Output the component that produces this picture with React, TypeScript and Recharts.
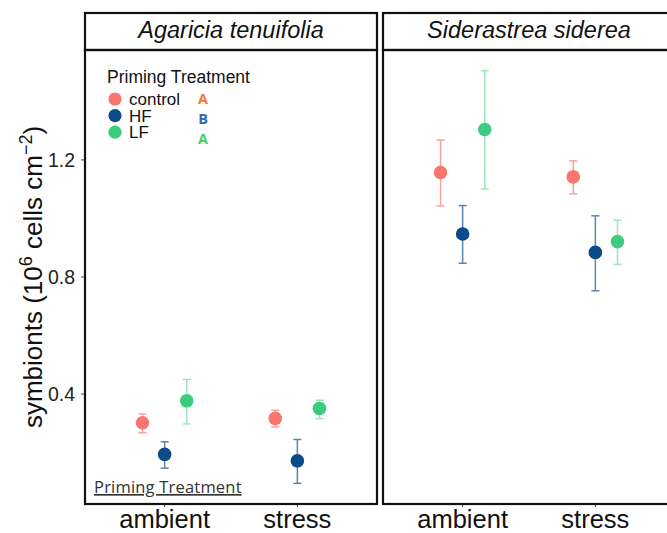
import React from 'react';
import { ScatterChart, Scatter, XAxis, YAxis, ErrorBar } from 'recharts';

// Categories and labels
const conditions = ['ambient', 'stress'];
const treatments = ['control', 'HF', 'LF'];
const speciesNames = ['Agaricia tenuifolia', 'Siderastrea siderea'];
const groupLetters = ['A', 'B', 'A'];
const yTicks = [0.4, 0.8, 1.2];

// Colours per treatment
const treatmentColors = ['#F8766D', '#0D4A8B', '#3DCB80'];
const errorColors = ['#F9A39B', '#5C84B4', '#A0E4BF'];
const letterColors = ['#ED7D31', '#2E6DB3', '#45D25C'];

// Symbiont density (10^6 cells cm^-2); rows: control, HF, LF; columns: ambient, stress
const agariciaMean = [
  [0.302, 0.317],
  [0.194, 0.172],
  [0.377, 0.351],
];
const agariciaLower = [
  [0.268, 0.288],
  [0.147, 0.095],
  [0.298, 0.316],
];
const agariciaUpper = [
  [0.332, 0.345],
  [0.237, 0.245],
  [0.45, 0.379],
];
const siderastreaMean = [
  [1.157, 1.142],
  [0.947, 0.884],
  [1.304, 0.921],
];
const siderastreaLower = [
  [1.043, 1.084],
  [0.847, 0.753],
  [1.101, 0.843],
];
const siderastreaUpper = [
  [1.268, 1.197],
  [1.044, 1.009],
  [1.505, 0.994],
];

const sans = '"Liberation Sans", Arial, sans-serif';
const noteFont = '"Open Sans", "Noto Sans", sans-serif';

// Shared y scale: data range plus 5% padding on each side
const allLow = Math.min(...agariciaLower.flat(), ...siderastreaLower.flat());
const allHigh = Math.max(...agariciaUpper.flat(), ...siderastreaUpper.flat());
const pad = (allHigh - allLow) * 0.05;
const yDomain: [number, number] = [allLow - pad, allHigh + pad];

// Discrete x positions 1..n with 0.6 padding, dodged by treatment
const xDomain: [number, number] = [0.4, conditions.length + 0.6];
const xTicks = conditions.map((_, i) => i + 1);
const dodge = 0.5;

function buildSeries(means: number[][], lower: number[][], upper: number[][], t: number) {
  return conditions.map((c, ci) => ({
    x: ci + 1 + (t - 1) * (dodge / 3),
    y: means[t][ci],
    err: [means[t][ci] - lower[t][ci], upper[t][ci] - means[t][ci]],
    condition: c,
  }));
}

const PLOT_TOP = 50;
const PLOT_BOTTOM = 504;
const CHART_H = 533;

function Panel(props: {
  left: number;
  width: number;
  means: number[][];
  lower: number[][];
  upper: number[][];
  showY: boolean;
}) {
  const { left, width, means, lower, upper, showY } = props;
  return (
    <div style={{ position: 'absolute', left, top: 0 }}>
      <ScatterChart
        width={width}
        height={CHART_H}
        margin={{ top: PLOT_TOP, right: showY ? 3 : 0, bottom: 0, left: 0 }}
      >
        <XAxis
          type="number"
          dataKey="x"
          domain={xDomain}
          ticks={xTicks}
          allowDataOverflow
          interval={0}
          tickFormatter={(v: number) => conditions[Math.round(v) - 1] ?? ''}
          axisLine={false}
          tickLine={{ stroke: '#444', strokeWidth: 1 }}
          tickSize={3}
          tickMargin={3}
          height={CHART_H - PLOT_BOTTOM}
          tick={{ fontSize: 25.5, fill: '#111', fontFamily: sans }}
        />
        <YAxis
          type="number"
          dataKey="y"
          domain={yDomain}
          ticks={yTicks}
          allowDataOverflow
          hide={!showY}
          width={85}
          axisLine={false}
          tickLine={{ stroke: '#444', strokeWidth: 1 }}
          tickSize={4}
          tickMargin={6}
          tickFormatter={(v: number) => v.toFixed(1)}
          tick={{ fontSize: 19.5, fill: '#222', fontFamily: sans }}
        />
        {treatments.map((name, t) => (
          <Scatter
            key={name}
            name={name}
            data={buildSeries(means, lower, upper, t)}
            isAnimationActive={false}
            shape={(p: any) => <circle cx={p.cx} cy={p.cy} r={6.8} fill={treatmentColors[t]} />}
          >
            <ErrorBar
              dataKey="err"
              direction="y"
              width={4}
              stroke={errorColors[t]}
              strokeWidth={1.5}
            />
          </Scatter>
        ))}
      </ScatterChart>
    </div>
  );
}

const panels = [
  { left: 0, width: 380, px: 85, means: agariciaMean, lower: agariciaLower, upper: agariciaUpper, showY: true },
  { left: 383, width: 292, px: 383, means: siderastreaMean, lower: siderastreaLower, upper: siderastreaUpper, showY: false },
];
const panelInnerWidth = 292;

export default function App() {
  return (
    <div
      style={{
        position: 'absolute',
        left: 0,
        top: 0,
        width: 667,
        height: 533,
        overflow: 'hidden',
        background: '#fff',
      }}
    >
      {panels.map((p, i) => (
        <Panel
          key={speciesNames[i]}
          left={p.left}
          width={p.width}
          means={p.means}
          lower={p.lower}
          upper={p.upper}
          showY={p.showY}
        />
      ))}
      <svg
        width={667}
        height={533}
        style={{ position: 'absolute', left: 0, top: 0, pointerEvents: 'none' }}
      >
        {panels.map((p, i) => (
          <g key={speciesNames[i]}>
            <rect x={p.px} y={13} width={panelInnerWidth} height={PLOT_TOP - 13} fill="none" stroke="#111" strokeWidth={2.2} />
            <rect x={p.px} y={PLOT_TOP} width={panelInnerWidth} height={PLOT_BOTTOM - PLOT_TOP} fill="none" stroke="#111" strokeWidth={2.2} />
            <text
              x={p.px + panelInnerWidth / 2}
              y={38}
              textAnchor="middle"
              fontFamily={sans}
              fontStyle="italic"
              fontSize={23.5}
              fill="#111"
            >
              {speciesNames[i]}
            </text>
          </g>
        ))}

        {/* y-axis title */}
        <text
          transform="translate(42,277) rotate(-90)"
          textAnchor="middle"
          fontFamily={sans}
          fontSize={26}
          fill="#111"
        >
          symbionts (10
          <tspan dy={-10} fontSize={18}>6</tspan>
          <tspan dy={10}> cells cm</tspan>
          <tspan dy={-10} fontSize={18}>−2</tspan>
          <tspan dy={10}>)</tspan>
        </text>

        {/* legend */}
        <text x={107} y={83} fontFamily={sans} fontSize={17.5} fill="#111">
          Priming Treatment
        </text>
        {treatments.map((name, t) => (
          <g key={name}>
            <circle cx={115} cy={99 + t * 16.6} r={6.6} fill={treatmentColors[t]} />
            <text x={129} y={105 + t * 16.6} fontFamily={sans} fontSize={17} fill="#111">
              {name}
            </text>
            <text
              x={203}
              y={104 + t * 20}
              textAnchor="middle"
              fontFamily={noteFont}
              fontWeight="bold"
              fontSize={14.5}
              fill={letterColors[t]}
            >
              {groupLetters[t]}
            </text>
          </g>
        ))}

        {/* note */}
        <text
          x={94}
          y={493}
          fontFamily={noteFont}
          fontSize={16.5}
          letterSpacing={0.2}
          fill="#333"
          textDecoration="underline"
        >
          Priming Treatment
        </text>
      </svg>
    </div>
  );
}
